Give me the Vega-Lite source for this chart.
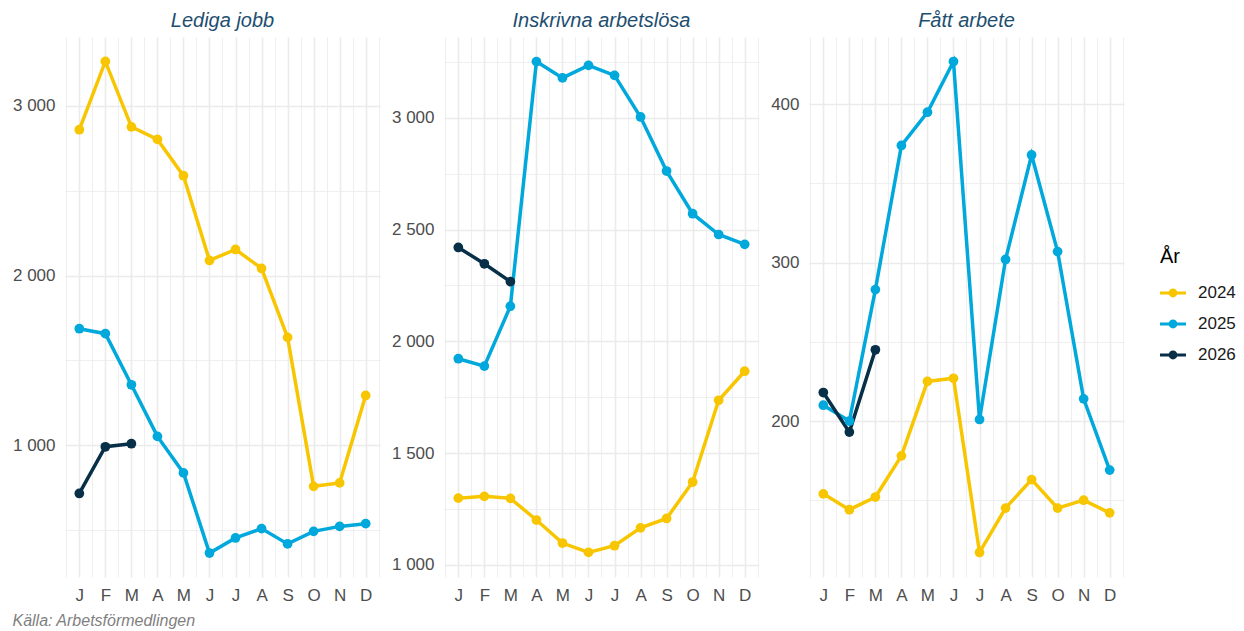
{
  "$schema": "https://vega.github.io/schema/vega-lite/v6.json",
  "padding": {"left": 12, "top": 11, "right": 0, "bottom": 0},
  "background": "white",
  "config": {
    "view": {"stroke": null},
    "font": "Liberation Sans",
    "concat": {"spacing": 11}
  },
  "title": {
    "text": "Källa: Arbetsförmedlingen",
    "orient": "bottom",
    "anchor": "start",
    "frame": "bounds",
    "fontStyle": "italic",
    "fontWeight": "normal",
    "fontSize": 16,
    "color": "#7F7F7F",
    "font": "Liberation Sans",
    "offset": 10
  },
  "data": {
    "values": [
      {"panel": "Lediga jobb", "year": "2024", "month": 1, "value": 2859},
      {"panel": "Lediga jobb", "year": "2024", "month": 2, "value": 3261},
      {"panel": "Lediga jobb", "year": "2024", "month": 3, "value": 2876},
      {"panel": "Lediga jobb", "year": "2024", "month": 4, "value": 2802},
      {"panel": "Lediga jobb", "year": "2024", "month": 5, "value": 2588},
      {"panel": "Lediga jobb", "year": "2024", "month": 6, "value": 2089},
      {"panel": "Lediga jobb", "year": "2024", "month": 7, "value": 2154},
      {"panel": "Lediga jobb", "year": "2024", "month": 8, "value": 2042},
      {"panel": "Lediga jobb", "year": "2024", "month": 9, "value": 1636},
      {"panel": "Lediga jobb", "year": "2024", "month": 10, "value": 759},
      {"panel": "Lediga jobb", "year": "2024", "month": 11, "value": 779},
      {"panel": "Lediga jobb", "year": "2024", "month": 12, "value": 1294},
      {"panel": "Lediga jobb", "year": "2025", "month": 1, "value": 1687},
      {"panel": "Lediga jobb", "year": "2025", "month": 2, "value": 1658},
      {"panel": "Lediga jobb", "year": "2025", "month": 3, "value": 1357},
      {"panel": "Lediga jobb", "year": "2025", "month": 4, "value": 1053},
      {"panel": "Lediga jobb", "year": "2025", "month": 5, "value": 838},
      {"panel": "Lediga jobb", "year": "2025", "month": 6, "value": 366},
      {"panel": "Lediga jobb", "year": "2025", "month": 7, "value": 455},
      {"panel": "Lediga jobb", "year": "2025", "month": 8, "value": 510},
      {"panel": "Lediga jobb", "year": "2025", "month": 9, "value": 420},
      {"panel": "Lediga jobb", "year": "2025", "month": 10, "value": 494},
      {"panel": "Lediga jobb", "year": "2025", "month": 11, "value": 523},
      {"panel": "Lediga jobb", "year": "2025", "month": 12, "value": 539},
      {"panel": "Lediga jobb", "year": "2026", "month": 1, "value": 717},
      {"panel": "Lediga jobb", "year": "2026", "month": 2, "value": 992},
      {"panel": "Lediga jobb", "year": "2026", "month": 3, "value": 1010},
      {"panel": "Inskrivna arbetslösa", "year": "2024", "month": 1, "value": 1298},
      {"panel": "Inskrivna arbetslösa", "year": "2024", "month": 2, "value": 1306},
      {"panel": "Inskrivna arbetslösa", "year": "2024", "month": 3, "value": 1297},
      {"panel": "Inskrivna arbetslösa", "year": "2024", "month": 4, "value": 1200},
      {"panel": "Inskrivna arbetslösa", "year": "2024", "month": 5, "value": 1097},
      {"panel": "Inskrivna arbetslösa", "year": "2024", "month": 6, "value": 1055},
      {"panel": "Inskrivna arbetslösa", "year": "2024", "month": 7, "value": 1085},
      {"panel": "Inskrivna arbetslösa", "year": "2024", "month": 8, "value": 1165},
      {"panel": "Inskrivna arbetslösa", "year": "2024", "month": 9, "value": 1207},
      {"panel": "Inskrivna arbetslösa", "year": "2024", "month": 10, "value": 1370},
      {"panel": "Inskrivna arbetslösa", "year": "2024", "month": 11, "value": 1736},
      {"panel": "Inskrivna arbetslösa", "year": "2024", "month": 12, "value": 1866},
      {"panel": "Inskrivna arbetslösa", "year": "2025", "month": 1, "value": 1922},
      {"panel": "Inskrivna arbetslösa", "year": "2025", "month": 2, "value": 1889},
      {"panel": "Inskrivna arbetslösa", "year": "2025", "month": 3, "value": 2157},
      {"panel": "Inskrivna arbetslösa", "year": "2025", "month": 4, "value": 3252},
      {"panel": "Inskrivna arbetslösa", "year": "2025", "month": 5, "value": 3179},
      {"panel": "Inskrivna arbetslösa", "year": "2025", "month": 6, "value": 3235},
      {"panel": "Inskrivna arbetslösa", "year": "2025", "month": 7, "value": 3190},
      {"panel": "Inskrivna arbetslösa", "year": "2025", "month": 8, "value": 3004},
      {"panel": "Inskrivna arbetslösa", "year": "2025", "month": 9, "value": 2762},
      {"panel": "Inskrivna arbetslösa", "year": "2025", "month": 10, "value": 2571},
      {"panel": "Inskrivna arbetslösa", "year": "2025", "month": 11, "value": 2478},
      {"panel": "Inskrivna arbetslösa", "year": "2025", "month": 12, "value": 2434},
      {"panel": "Inskrivna arbetslösa", "year": "2026", "month": 1, "value": 2420},
      {"panel": "Inskrivna arbetslösa", "year": "2026", "month": 2, "value": 2347},
      {"panel": "Inskrivna arbetslösa", "year": "2026", "month": 3, "value": 2267},
      {"panel": "Fått arbete", "year": "2024", "month": 1, "value": 154},
      {"panel": "Fått arbete", "year": "2024", "month": 2, "value": 144},
      {"panel": "Fått arbete", "year": "2024", "month": 3, "value": 152},
      {"panel": "Fått arbete", "year": "2024", "month": 4, "value": 178},
      {"panel": "Fått arbete", "year": "2024", "month": 5, "value": 225},
      {"panel": "Fått arbete", "year": "2024", "month": 6, "value": 227},
      {"panel": "Fått arbete", "year": "2024", "month": 7, "value": 117},
      {"panel": "Fått arbete", "year": "2024", "month": 8, "value": 145},
      {"panel": "Fått arbete", "year": "2024", "month": 9, "value": 163},
      {"panel": "Fått arbete", "year": "2024", "month": 10, "value": 145},
      {"panel": "Fått arbete", "year": "2024", "month": 11, "value": 150},
      {"panel": "Fått arbete", "year": "2024", "month": 12, "value": 142},
      {"panel": "Fått arbete", "year": "2025", "month": 1, "value": 210},
      {"panel": "Fått arbete", "year": "2025", "month": 2, "value": 200},
      {"panel": "Fått arbete", "year": "2025", "month": 3, "value": 283},
      {"panel": "Fått arbete", "year": "2025", "month": 4, "value": 374},
      {"panel": "Fått arbete", "year": "2025", "month": 5, "value": 395},
      {"panel": "Fått arbete", "year": "2025", "month": 6, "value": 427},
      {"panel": "Fått arbete", "year": "2025", "month": 7, "value": 201},
      {"panel": "Fått arbete", "year": "2025", "month": 8, "value": 302},
      {"panel": "Fått arbete", "year": "2025", "month": 9, "value": 368},
      {"panel": "Fått arbete", "year": "2025", "month": 10, "value": 307},
      {"panel": "Fått arbete", "year": "2025", "month": 11, "value": 214},
      {"panel": "Fått arbete", "year": "2025", "month": 12, "value": 169},
      {"panel": "Fått arbete", "year": "2026", "month": 1, "value": 218},
      {"panel": "Fått arbete", "year": "2026", "month": 2, "value": 193},
      {"panel": "Fått arbete", "year": "2026", "month": 3, "value": 245}
    ]
  },
  "hconcat": [
    {
      "width": 315,
      "height": 540,
      "title": {"text": "Lediga jobb", "fontStyle": "italic", "fontWeight": "normal", "fontSize": 20, "color": "#1D4E70", "font": "Liberation Sans", "frame": "group", "anchor": "middle", "offset": 6},
      "transform": [{"filter": "datum.panel === 'Lediga jobb'"}],
      "encoding": {
        "x": {"field": "month", "type": "quantitative", "scale": {"domain": [0.45, 12.55], "nice": false, "zero": false},
          "axis": {"title": null, "values": [0.5, 1, 1.5, 2, 2.5, 3, 3.5, 4, 4.5, 5, 5.5, 6, 6.5, 7, 7.5, 8, 8.5, 9, 9.5, 10, 10.5, 11, 11.5, 12, 12.5],
            "labelExpr": "datum.value % 1 === 0 ? ['J','F','M','A','M','J','J','A','S','O','N','D'][datum.value - 1] : ''",
            "grid": true, "gridColor": "#EBEBEB", "gridWidth": {"condition": {"test": "datum.value % 1 === 0", "value": 1.6}, "value": 0.8},
            "ticks": false, "tickSize": 0, "domain": false, "labelOverlap": false, "labelFlush": false,
            "labelFontSize": 17, "labelColor": "#4D4D4D", "labelFont": "Liberation Sans", "labelPadding": 10}},
        "y": {"field": "value", "type": "quantitative", "scale": {"domain": [225, 3405], "nice": false, "zero": false},
          "axis": {"title": null, "values": [500, 1000, 1500, 2000, 2500, 3000],
            "labelExpr": "datum.value % 1000 === 0 ? replace(format(datum.value, ','), ',', ' ') : ''",
            "grid": true, "gridColor": "#EBEBEB", "gridWidth": {"condition": {"test": "datum.value % 1000 === 0", "value": 1.6}, "value": 0.8},
            "ticks": false, "tickSize": 0, "domain": false, "labelOverlap": false, "labelFlush": false,
            "labelFontSize": 17, "labelColor": "#4D4D4D", "labelFont": "Liberation Sans", "labelPadding": 10}},
        "color": {"field": "year", "type": "nominal", "scale": {"domain": ["2024", "2025", "2026"], "range": ["#F8C600", "#00A8DC", "#072F47"]},
          "legend": {"title": "År", "orient": "none", "legendX": 1095, "legendY": 210, "titleFontSize": 20, "titleFontWeight": "normal", "titleColor": "#000000", "titleFont": "Liberation Sans", "titlePadding": 13,
            "labelFontSize": 17, "labelColor": "#1A1A1A", "labelFont": "Liberation Sans", "labelOffset": 12, "rowPadding": 10,
            "symbolType": "M-1,-0.11H1V0.11H-1Z M0.34,0A0.34,0.34,0,1,1,-0.34,0A0.34,0.34,0,1,1,0.34,0Z", "symbolSize": 676, "symbolStrokeWidth": 0, "symbolOpacity": 1,
            "encode": {"symbols": {"update": {"fill": {"scale": "color", "field": "value"}, "opacity": {"value": 1}, "strokeWidth": {"value": 0}}}}}}
      },
      "layer": [
        {"mark": {"type": "line", "strokeWidth": 3.5}},
        {"mark": {"type": "point", "filled": true, "size": 95, "opacity": 1}}
      ]
    },
    {
      "width": 315,
      "height": 540,
      "title": {"text": "Inskrivna arbetslösa", "fontStyle": "italic", "fontWeight": "normal", "fontSize": 20, "color": "#1D4E70", "font": "Liberation Sans", "frame": "group", "anchor": "middle", "offset": 6},
      "transform": [{"filter": "datum.panel === 'Inskrivna arbetslösa'"}],
      "encoding": {
        "x": {"field": "month", "type": "quantitative", "scale": {"domain": [0.45, 12.55], "nice": false, "zero": false},
          "axis": {"title": null, "values": [0.5, 1, 1.5, 2, 2.5, 3, 3.5, 4, 4.5, 5, 5.5, 6, 6.5, 7, 7.5, 8, 8.5, 9, 9.5, 10, 10.5, 11, 11.5, 12, 12.5],
            "labelExpr": "datum.value % 1 === 0 ? ['J','F','M','A','M','J','J','A','S','O','N','D'][datum.value - 1] : ''",
            "grid": true, "gridColor": "#EBEBEB", "gridWidth": {"condition": {"test": "datum.value % 1 === 0", "value": 1.6}, "value": 0.8},
            "ticks": false, "tickSize": 0, "domain": false, "labelOverlap": false, "labelFlush": false,
            "labelFontSize": 17, "labelColor": "#4D4D4D", "labelFont": "Liberation Sans", "labelPadding": 10}},
        "y": {"field": "value", "type": "quantitative", "scale": {"domain": [945, 3362], "nice": false, "zero": false},
          "axis": {"title": null, "values": [1000, 1250, 1500, 1750, 2000, 2250, 2500, 2750, 3000, 3250],
            "labelExpr": "datum.value % 500 === 0 ? replace(format(datum.value, ','), ',', ' ') : ''",
            "grid": true, "gridColor": "#EBEBEB", "gridWidth": {"condition": {"test": "datum.value % 500 === 0", "value": 1.6}, "value": 0.8},
            "ticks": false, "tickSize": 0, "domain": false, "labelOverlap": false, "labelFlush": false,
            "labelFontSize": 17, "labelColor": "#4D4D4D", "labelFont": "Liberation Sans", "labelPadding": 10}},
        "color": {"field": "year", "type": "nominal", "scale": {"domain": ["2024", "2025", "2026"], "range": ["#F8C600", "#00A8DC", "#072F47"]}}
      },
      "layer": [
        {"mark": {"type": "line", "strokeWidth": 3.5}},
        {"mark": {"type": "point", "filled": true, "size": 95, "opacity": 1}}
      ]
    },
    {
      "width": 315,
      "height": 540,
      "title": {"text": "Fått arbete", "fontStyle": "italic", "fontWeight": "normal", "fontSize": 20, "color": "#1D4E70", "font": "Liberation Sans", "frame": "group", "anchor": "middle", "offset": 6},
      "transform": [{"filter": "datum.panel === 'Fått arbete'"}],
      "encoding": {
        "x": {"field": "month", "type": "quantitative", "scale": {"domain": [0.45, 12.55], "nice": false, "zero": false},
          "axis": {"title": null, "values": [0.5, 1, 1.5, 2, 2.5, 3, 3.5, 4, 4.5, 5, 5.5, 6, 6.5, 7, 7.5, 8, 8.5, 9, 9.5, 10, 10.5, 11, 11.5, 12, 12.5],
            "labelExpr": "datum.value % 1 === 0 ? ['J','F','M','A','M','J','J','A','S','O','N','D'][datum.value - 1] : ''",
            "grid": true, "gridColor": "#EBEBEB", "gridWidth": {"condition": {"test": "datum.value % 1 === 0", "value": 1.6}, "value": 0.8},
            "ticks": false, "tickSize": 0, "domain": false, "labelOverlap": false, "labelFlush": false,
            "labelFontSize": 17, "labelColor": "#4D4D4D", "labelFont": "Liberation Sans", "labelPadding": 10}},
        "y": {"field": "value", "type": "quantitative", "scale": {"domain": [101.5, 442.5], "nice": false, "zero": false},
          "axis": {"title": null, "values": [150, 200, 250, 300, 350, 400],
            "labelExpr": "datum.value % 100 === 0 ? format(datum.value, 'd') : ''",
            "grid": true, "gridColor": "#EBEBEB", "gridWidth": {"condition": {"test": "datum.value % 100 === 0", "value": 1.6}, "value": 0.8},
            "ticks": false, "tickSize": 0, "domain": false, "labelOverlap": false, "labelFlush": false,
            "labelFontSize": 17, "labelColor": "#4D4D4D", "labelFont": "Liberation Sans", "labelPadding": 10}},
        "color": {"field": "year", "type": "nominal", "scale": {"domain": ["2024", "2025", "2026"], "range": ["#F8C600", "#00A8DC", "#072F47"]}}
      },
      "layer": [
        {"mark": {"type": "line", "strokeWidth": 3.5}},
        {"mark": {"type": "point", "filled": true, "size": 95, "opacity": 1}}
      ]
    }
  ]
}
